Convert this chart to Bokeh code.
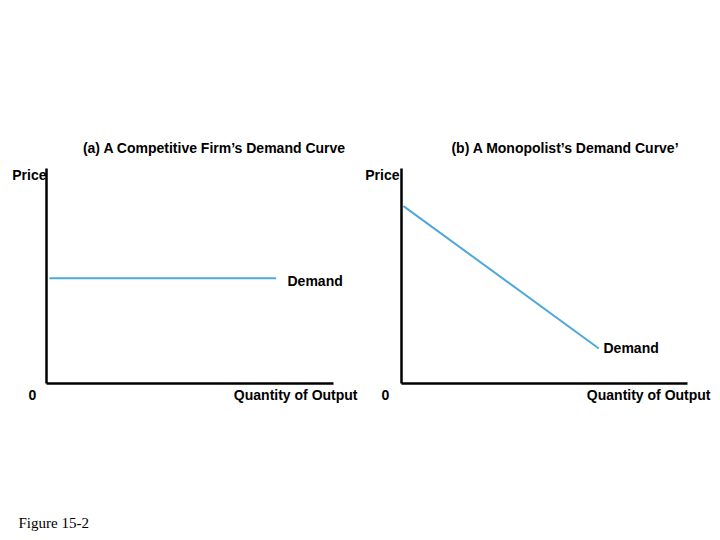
from bokeh.plotting import figure
from bokeh.models import Range1d
from bokeh.embed import file_html
from bokeh.resources import INLINE
from bokeh.core.properties import value

# ---- data (economic units: quantity 0..10, price 0..10) ----
titles = ["(a) A Competitive Firm\u2019s Demand Curve", "(b) A Monopolist\u2019s Demand Curve\u2019"]
y_label = "Price"
x_label = "Quantity of Output"
origin_label = "0"
curve_label = "Demand"
caption = "Figure 15-2"

# panel (a): perfectly elastic demand (horizontal)
demand_a_q = [0.1, 8.0]
demand_a_p = [4.9, 4.9]
# panel (b): downward-sloping demand
demand_b_q = [0.07, 6.9]
demand_b_p = [8.25, 1.63]

axis_max = 10.0

W, H = 712, 532
OFF = 0  # picture offset of the figure

p = figure(width=W, height=H, output_backend="svg", toolbar_location=None,
           x_range=Range1d(OFF, OFF + W), y_range=Range1d(OFF + H, OFF),
           min_border=0, min_border_left=0, min_border_right=0,
           min_border_top=0, min_border_bottom=0)
p.axis.visible = False
p.grid.visible = False
p.outline_line_color = None
p.background_fill_color = "white"
p.border_fill_color = "white"


def panel_ranges(name, ox, oy, pw, ph):
    sx = pw / axis_max
    sy = ph / axis_max
    xs = -(ox - OFF) / sx
    p.extra_x_ranges[name + "x"] = Range1d(xs, xs + W / sx)
    ys = -((OFF + H) - oy) / sy
    p.extra_y_ranges[name + "y"] = Range1d(ys, ys + H / sy)
    return name + "x", name + "y"


ax, ay = panel_ranges("a", 46, 383, 287, 215)
bx, by = panel_ranges("b", 401, 383, 286, 215)

BLUE = "#4ea8dc"
for xn, yn, q, pr in [(ax, ay, demand_a_q, demand_a_p), (bx, by, demand_b_q, demand_b_p)]:
    # axes
    p.line([0, 0], [0, axis_max], x_range_name=xn, y_range_name=yn,
           line_color="black", line_width=2.5)
    p.line([0, axis_max], [0, 0], x_range_name=xn, y_range_name=yn,
           line_color="black", line_width=2.5)
    # demand
    p.line(q, pr, x_range_name=xn, y_range_name=yn, line_color=BLUE, line_width=2)

FONT = value("Liberation Sans")
common = dict(text_font=FONT, text_font_size="14px", text_font_style="bold",
              text_color="black", text_baseline="middle")

# titles
p.text(x=[214, 565], y=[147, 147], text=titles, text_align="center", **common)
# Price labels
p.text(x=[46, 399], y=[174, 174], text=[y_label, y_label], text_align="right", **common)
# origin labels
p.text(x=[32, 385], y=[394, 394], text=[origin_label, origin_label], text_align="center", **common)
# quantity labels
p.text(x=[357, 710], y=[394, 394], text=[x_label, x_label], text_align="right", **common)
# demand labels
p.text(x=[287, 603], y=[280, 347], text=[curve_label, curve_label],
       text_align="left", **common)
# caption
p.text(x=[18], y=[522], text=[caption], text_align="left", text_baseline="middle",
       text_font=value("Liberation Serif"), text_font_size="15px", text_color="black")

open("out.html", "w").write(file_html(p, INLINE))
